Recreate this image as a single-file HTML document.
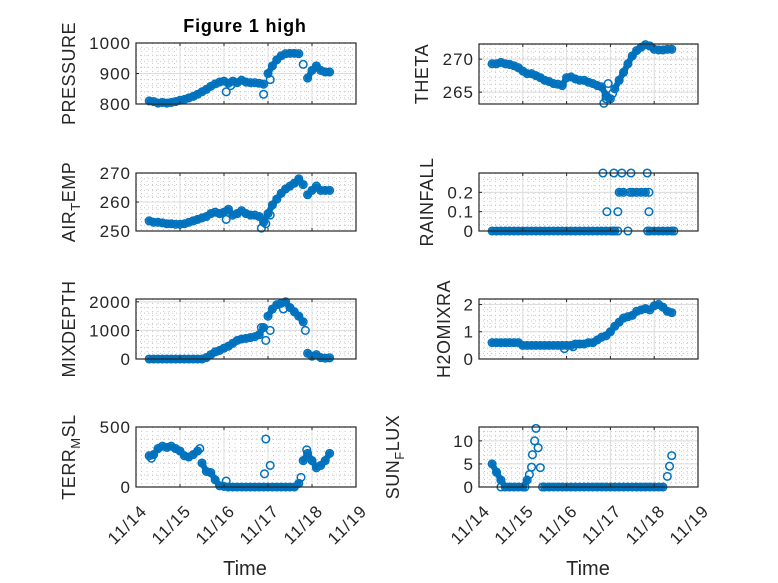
<!DOCTYPE html>
<html><head><meta charset="utf-8">
<style>
html,body{margin:0;padding:0;background:#fff;}
svg{display:block;font-family:"Liberation Sans",sans-serif;}
</style></head>
<body>
<svg id="fig" width="778" height="583" viewBox="0 0 778 583" xmlns="http://www.w3.org/2000/svg">
<rect width="778" height="583" fill="#fff"/>
<text x="245" y="32" text-anchor="middle" font-size="18" font-weight="bold" letter-spacing="0.8" fill="#000">Figure 1 high</text>
<text x="245" y="575" text-anchor="middle" font-size="20" fill="#262626">Time</text>
<text x="588" y="575" text-anchor="middle" font-size="20" fill="#262626">Time</text>
</svg>
<script>
const timeDays = [0.3,0.4,0.5,0.6,0.7,0.8,0.9,1.0,1.1,1.2,1.3,1.4,1.5,1.6,1.7,1.8,1.9,2.0,2.1,2.2,2.3,2.4,2.5,2.6,2.7,2.8,2.9,3.0,3.1,3.2,3.3,3.4,3.5,3.6,3.7,3.8,3.9,4.0,4.1,4.2,4.3,4.4];
const xTickLabels = ["11/14","11/15","11/16","11/17","11/18","11/19"];
const pressure = [810,808,803,805,803,805,808,812,815,820,825,832,840,848,858,866,872,875,868,875,870,878,872,870,870,868,865,900,925,945,958,965,966,966,965,930,885,910,925,910,905,905];
const pressureExtraT = [2.9,2.05,3.05,2.15];
const pressureExtraV = [832,840,880,860];
const theta = [269.3,269.3,269.5,269.3,269.2,269.0,268.7,268.2,267.8,267.8,267.5,267.2,266.8,266.6,266.3,266.2,266.0,267.2,267.3,267.0,266.8,266.8,266.5,266.3,266.0,265.8,264.5,264.0,265.5,266.8,268.0,269.3,270.5,271.3,271.8,272.2,272.0,271.5,271.4,271.4,271.5,271.5];
const thetaExtraT = [2.85,2.95,2.9,3.05];
const thetaExtraV = [263.3,266.3,264.0,264.8];
const airTemp = [253.5,253,253,252.8,252.5,252.5,252.3,252.3,252.5,253,253.5,254,254.5,255,256,256.5,256,256.5,257.5,255.5,256,257,256,255.5,255.5,255,253,256,259,261,263,264.5,265.5,266.5,268,266,262.5,264,265.5,264,264,264];
const airTempExtraT = [2.85,2.95,2.05,3.05];
const airTempExtraV = [251,252.5,254,255.5];
const rainfall = [0,0,0,0,0,0,0,0,0,0,0,0,0,0,0,0,0,0,0,0,0,0,0,0,0,0,0,0,0,0.2,0.2,0,0.2,0.2,0.2,0.2,0,0,0,0,0,0];
const rainfallExtraT = [2.83,3.08,3.26,3.47,3.84,2.92,3.17,3.88,3.17,3.88,3.45,3.85,4.45,3.06];
const rainfallExtraV = [0.3,0.3,0.3,0.3,0.3,0.1,0.1,0.1,0,0.2,0.2,0,0,0];
const mixDepth = [0,0,0,0,0,0,0,0,0,0,0,0,0,50,150,250,300,380,450,550,650,700,720,750,780,850,1100,1500,1750,1900,1950,2000,1800,1650,1500,1300,200,100,150,50,30,40];
const mixDepthExtraT = [2.95,3.05,3.85,3.35,2.85];
const mixDepthExtraV = [650,1000,1000,1750,1100];
const h2oMix = [0.6,0.6,0.6,0.6,0.6,0.6,0.6,0.5,0.5,0.5,0.5,0.5,0.5,0.5,0.5,0.5,0.5,0.5,0.5,0.55,0.55,0.55,0.6,0.6,0.7,0.8,0.85,1.0,1.2,1.35,1.5,1.55,1.6,1.75,1.8,1.85,1.8,1.95,2.0,1.9,1.75,1.7];
const h2oMixExtraT = [1.95,2.15];
const h2oMixExtraV = [0.38,0.45];
const terrMsl = [260,270,320,340,330,340,320,300,260,250,270,300,200,130,120,60,10,5,0,0,0,0,0,0,0,0,0,0,0,0,0,0,0,0,30,220,280,220,160,180,220,280];
const terrMslExtraT = [2.92,2.95,3.05,1.45,2.05,3.75,3.88,0.35];
const terrMslExtraV = [110,400,180,320,50,80,310,240];
const sunFlux = [5,3.2,1.5,0,0,0,0,0,1.5,4.3,12.7,4.2,0,0,0,0,0,0,0,0,0,0,0,0,0,0,0,0,0,0,0,0,0,0,0,0,0,0,0,0,2.3,6.8];
const sunFluxExtraT = [0.5,1.15,1.22,1.27,1.35,4.35,1.05,1.45];
const sunFluxExtraV = [0,2.7,7,10,8.5,4.5,0,0];
const pressureTicks = [800,900,1000];
const thetaTicks = [265,270];
const airTempTicks = [250,260,270];
const rainfallTicks = [0,0.1,0.2];
const mixDepthTicks = [0,1000,2000];
const h2oMixTicks = [0,1,2];
const terrMslTicks = [0,500];
const sunFluxTicks = [0,5,10];

const NS = "http://www.w3.org/2000/svg";
const svg = document.getElementById('fig');
function mk(tag, attrs, parent){const e=document.createElementNS(NS,tag);for(const k in attrs)e.setAttribute(k,attrs[k]);(parent||svg).appendChild(e);return e;}

function panel(cfg){
  const g = mk('g',{});
  
  
  const L=cfg.box[0],R=cfg.box[1],T=cfg.box[2],B=cfg.box[3];
  const xs = t => L + t/5*(R-L);
  const ys = v => B - (v-cfg.ymin)/(cfg.ymax-cfg.ymin)*(B-T);
  for(let i=1;i<40;i++){ if(i%8===0) continue; const x=xs(i/8);
    const l=mk('line',{x1:x,x2:x,y1:T,y2:B,stroke:'#c8c8c8','stroke-width':1,'stroke-dasharray':'1 3'},g);
      }
  for(let v=cfg.ymin; v<=cfg.ymax+1e-9; v+=cfg.minor){ const y=ys(v); if(y<T+0.5||y>B-0.5) continue;
    const l=mk('line',{x1:L,x2:R,y1:y,y2:y,stroke:'#c8c8c8','stroke-width':1,'stroke-dasharray':'1 3'},g);
      }
  for(let i=1;i<5;i++){ const x=xs(i);
    const l=mk('line',{x1:x,x2:x,y1:T,y2:B,stroke:'#dcdcdc','stroke-width':1},g);
      }
  cfg.ticks.forEach(v=>{ const y=ys(v);
    if(y>T+0.5&&y<B-0.5){ const l=mk('line',{x1:L,x2:R,y1:y,y2:y,stroke:'#dcdcdc','stroke-width':1},g);
        }
    const tk=mk('line',{x1:L,x2:L+3,y1:y,y2:y,stroke:'#262626','stroke-width':1},g);
     
    const tx=mk('text',{x:L-5,y:y+6,'text-anchor':'end','font-size':17,'letter-spacing':1,fill:'#262626'},g);
    tx.textContent=String(v);
     
  });
  // dense band: connect consecutive samples only where they are close (no big jumps)
  let d='';
  for(let i=0;i<timeDays.length;i++){
    const x=xs(timeDays[i]), y=ys(cfg.data[i]);
    if(i>0 && Math.abs(y-ys(cfg.data[i-1]))<9) d += 'L'+x.toFixed(1)+' '+y.toFixed(1);
    else d += 'M'+x.toFixed(1)+' '+y.toFixed(1);
  }
  const band=mk('path',{d:d,fill:'none',stroke:'#0072BD','stroke-width':6,'stroke-linejoin':'round','stroke-linecap':'round'},g);
  
  
  const ptsT = timeDays.concat(cfg.extraT), ptsV = cfg.data.concat(cfg.extraV);
  for(let i=0;i<ptsT.length;i++){
    const c=mk('circle',{cx:xs(ptsT[i]),cy:ys(ptsV[i]),r:3.8,fill:'none',stroke:'#0072BD','stroke-width':1.5},g);
    
    
  }
  const bx=mk('rect',{x:L,y:T,width:R-L,height:B-T,fill:'none',stroke:'#262626','stroke-width':1.2},g);
   
  for(let i=0;i<=5;i++){ const x=xs(i);
    const tk=mk('line',{x1:x,x2:x,y1:T,y2:T+3,stroke:'#262626','stroke-width':1},g);
     
    const tb=mk('line',{x1:x,x2:x,y1:B,y2:B-3,stroke:'#262626','stroke-width':1},g);
     
    if(cfg.xlabels){
      const ax=x+12, ay=B+25;
      const tx=mk('text',{x:ax,y:ay,'text-anchor':'end','font-size':17,'letter-spacing':1.2,fill:'#262626',transform:`rotate(-45 ${ax} ${ay})`},g);
      tx.textContent=xTickLabels[i];
       
    }
  }
  const cy=(T+B)/2;
  const yl=mk('text',{x:cfg.lx,y:cy,'text-anchor':'middle','font-size':18,'letter-spacing':0.5,fill:'#262626',transform:`rotate(-90 ${cfg.lx} ${cy})`},g);
  
  
  cfg.label.forEach(p=>{ const s=mk('tspan',{},yl); s.textContent=p[0];
    if(p[1]){ s.setAttribute('font-size','13'); s.setAttribute('dy','5'); }
    else if(p[2]){ s.setAttribute('dy','-5'); } });
}
const LC=[136,356], RC=[479,698];
panel({name:'pressure',box:[LC[0],LC[1],43,104],ymin:800,ymax:1000,minor:20,ticks:pressureTicks,data:pressure,extraT:pressureExtraT,extraV:pressureExtraV,lx:75,label:[['PRESSURE']]});
panel({name:'air-temp',box:[LC[0],LC[1],173,231],ymin:250,ymax:270,minor:2,ticks:airTempTicks,data:airTemp,extraT:airTempExtraT,extraV:airTempExtraV,lx:75,label:[['AIR'],['T',1],['EMP',0,1]]});
panel({name:'mixdepth',box:[LC[0],LC[1],299,359],ymin:0,ymax:2100,minor:200,ticks:mixDepthTicks,data:mixDepth,extraT:mixDepthExtraT,extraV:mixDepthExtraV,lx:75,label:[['MIXDEPTH']]});
panel({name:'terr-msl',box:[LC[0],LC[1],427,487],ymin:0,ymax:500,minor:100,ticks:terrMslTicks,data:terrMsl,extraT:terrMslExtraT,extraV:terrMslExtraV,lx:75,xlabels:true,label:[['TERR'],['M',1],['SL',0,1]]});
panel({name:'theta',box:[RC[0],RC[1],44,104],ymin:263.2,ymax:272.3,minor:1,ticks:thetaTicks,data:theta,extraT:thetaExtraT,extraV:thetaExtraV,lx:428,label:[['THETA']]});
panel({name:'rainfall',box:[RC[0],RC[1],173,231],ymin:0,ymax:0.3,minor:0.1/3,ticks:rainfallTicks,data:rainfall,extraT:rainfallExtraT,extraV:rainfallExtraV,lx:433,label:[['RAINFALL']]});
panel({name:'h2omixra',box:[RC[0],RC[1],299,359],ymin:0,ymax:2.2,minor:0.2,ticks:h2oMixTicks,data:h2oMix,extraT:h2oMixExtraT,extraV:h2oMixExtraV,lx:450,label:[['H2OMIXRA']]});
panel({name:'sun-flux',box:[RC[0],RC[1],427,487],ymin:0,ymax:13,minor:1,ticks:sunFluxTicks,data:sunFlux,extraT:sunFluxExtraT,extraV:sunFluxExtraV,lx:399,xlabels:true,label:[['SUN'],['F',1],['LUX',0,1]]});
</script>
</body></html>
